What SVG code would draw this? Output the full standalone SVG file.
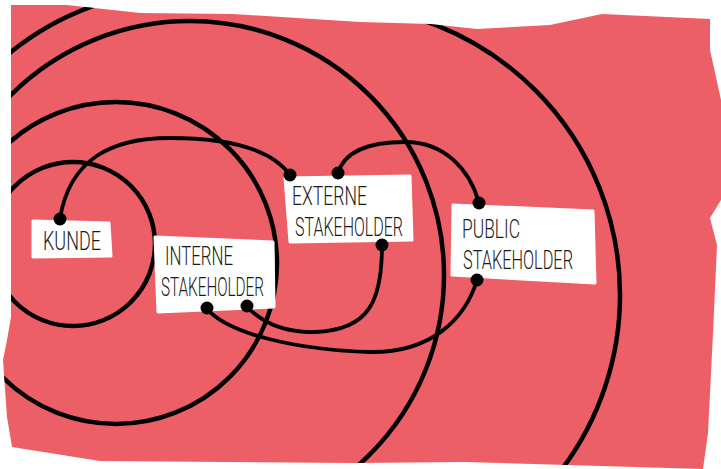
<svg xmlns="http://www.w3.org/2000/svg" width="721" height="469" viewBox="0 0 721 469">
  <style>
    .sheet { fill: #EC5F66; }
    .ring { fill: none; stroke: #000; stroke-width: 4.5; }
    .link { fill: none; stroke: #000; stroke-width: 3.8; stroke-linecap: round; }
    .card { fill: #fff; stroke: #fff; stroke-width: 3; stroke-linejoin: round; }
    .dot { fill: #000; }
    .label { font-family: Roboto, "Open Sans", "Liberation Sans", sans-serif; font-weight: 300; font-size: 26px; fill: #1a1a1a; }
  </style>
  <defs>
    <clipPath id="sheetClip">
      <path d="M11,5 L67,5 L140,13 L233,14 L360,22 L430,24 L477,29 L550,25 L602,14 L710,19 L710,50 L721,100 L721,200 L710,218 L717,245 L713,333 L708,433 L703,469 L465,462 L355,463 L100,461 L12,447 L7,417 L3,360 L7,340 L11,317 Z"/>
    </clipPath>
  </defs>

  <!-- torn paper background -->
  <path class="sheet" d="M11,5 L67,5 L140,13 L233,14 L360,22 L430,24 L477,29 L550,25 L602,14 L710,19 L710,50 L721,100 L721,200 L710,218 L717,245 L713,333 L708,433 L703,469 L465,462 L355,463 L100,461 L12,447 L7,417 L3,360 L7,340 L11,317 Z"/>

  <!-- concentric rings, trimmed to the sheet -->
  <g id="rings" clip-path="url(#sheetClip)">
    <circle class="ring" cx="73" cy="244" r="82"/>
    <circle class="ring" cx="116" cy="263" r="161"/>
    <circle class="ring" cx="190" cy="275" r="254"/>
    <path class="ring" d="M-2,63 A286,286 0 0 1 112,0"/>
    <path class="ring" d="M330,5 A290,290 0 0 1 620,295 A290,290 0 0 1 562,469"/>
  </g>

  <!-- connectors -->
  <g id="connectors">
    <path class="link" d="M60,218 C70,160 110,138 170,138 C230,138 272,150 290,175"/>
    <path class="link" d="M338,173 C345,150 370,142 405,142 C445,142 470,170 479,203"/>
    <path class="link" d="M382,245 C382,300 370,330 315,332 C280,333 260,320 247,307"/>
    <path class="link" d="M207,309 C230,335 300,350 370,352 C430,353 465,320 477,280"/>
  </g>

  <g id="kunde">
    <path class="card" d="M33,221 L109,223 L111,256 L33,257 Z"/>
    <text class="label" x="43" y="250" textLength="58" lengthAdjust="spacingAndGlyphs">KUNDE</text>
    <circle class="dot" cx="60" cy="219" r="6.5"/>
  </g>

  <g id="interne">
    <path class="card" d="M155,237 L273,242 L274,307 L158,312 Z"/>
    <text class="label" x="165" y="265" textLength="68" lengthAdjust="spacingAndGlyphs">INTERNE</text>
    <text class="label" x="161" y="296" textLength="103" lengthAdjust="spacingAndGlyphs">STAKEHOLDER</text>
    <circle class="dot" cx="207" cy="308" r="6.5"/>
    <circle class="dot" cx="247" cy="306" r="6.5"/>
  </g>

  <g id="externe">
    <path class="card" d="M285,178 L410,176 L412,240 L290,242 Z"/>
    <text class="label" x="292" y="205" textLength="75" lengthAdjust="spacingAndGlyphs">EXTERNE</text>
    <text class="label" x="295" y="236" textLength="108" lengthAdjust="spacingAndGlyphs">STAKEHOLDER</text>
    <circle class="dot" cx="290" cy="175" r="6.5"/>
    <circle class="dot" cx="338" cy="173" r="6.5"/>
    <circle class="dot" cx="382" cy="245" r="6.5"/>
  </g>

  <g id="public">
    <path class="card" d="M453,205 L593,211 L595,283 L452,275 Z"/>
    <text class="label" x="462" y="238" textLength="58" lengthAdjust="spacingAndGlyphs">PUBLIC</text>
    <text class="label" x="463" y="269" textLength="110" lengthAdjust="spacingAndGlyphs">STAKEHOLDER</text>
    <circle class="dot" cx="479" cy="203" r="6.5"/>
    <circle class="dot" cx="477" cy="280" r="6.5"/>
  </g>
</svg>
